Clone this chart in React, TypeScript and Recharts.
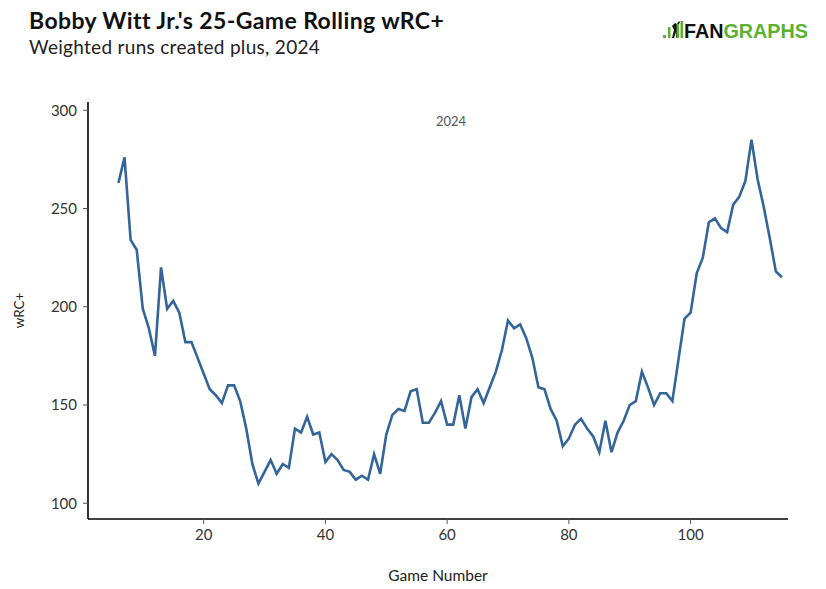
import React from 'react';
import { LineChart, Line, XAxis, YAxis } from 'recharts';

const games: number[] = [
  6, 7, 8, 9, 10, 11, 12, 13, 14, 15, 16, 17, 18, 19, 20, 21, 22, 23, 24, 25,
  26, 27, 28, 29, 30, 31, 32, 33, 34, 35, 36, 37, 38, 39, 40, 41, 42, 43, 44, 45,
  46, 47, 48, 49, 50, 51, 52, 53, 54, 55, 56, 57, 58, 59, 60, 61, 62, 63, 64, 65,
  66, 67, 68, 69, 70, 71, 72, 73, 74, 75, 76, 77, 78, 79, 80, 81, 82, 83, 84, 85,
  86, 87, 88, 89, 90, 91, 92, 93, 94, 95, 96, 97, 98, 99, 100, 101, 102, 103, 104, 105,
  106, 107, 108, 109, 110, 111, 112, 113, 114, 115,
];

const wrcPlus: number[] = [
  263, 276, 234, 229, 199, 189, 175, 220, 199, 203, 197, 182, 182, 174, 166, 158, 155, 151, 160, 160,
  152, 138, 120, 110, 116, 122, 115, 120, 118, 138, 136, 144, 135, 136, 121, 125, 122, 117, 116, 112,
  114, 112, 125, 115, 135, 145, 148, 147, 157, 158, 141, 141, 146, 152, 140, 140, 155, 138, 154, 158,
  151, 159, 167, 178, 193, 189, 191, 184, 174, 159, 158, 148, 142, 129, 133, 140, 143, 138, 134, 126,
  142, 126, 136, 142, 150, 152, 167, 159, 150, 156, 156, 152, 173, 194, 197, 217, 225, 243, 245, 240,
  238, 252, 256, 264, 285, 265, 251, 235, 218, 215,
];

const xTicks: number[] = [20, 40, 60, 80, 100];
const yTicks: number[] = [100, 150, 200, 250, 300];

const title = "Bobby Witt Jr.'s 25-Game Rolling wRC+";
const subtitle = 'Weighted runs created plus, 2024';
const panelLabel = '2024';

const data = games.map((g, i) => ({ game: g, wrc: wrcPlus[i] }));

const FONT = 'Lato, "Open Sans", sans-serif';
const LINE_COLOR = '#33659a';
const GREEN = '#5cb132';

export default function App() {
  return (
    <div style={{ position: 'absolute', left: 0, top: 0, width: 826, height: 589, background: '#fff', fontFamily: FONT }}>
      <div style={{ position: 'absolute', left: 29, top: 7, fontSize: 23, lineHeight: 1.2, fontWeight: 700, color: '#111', whiteSpace: 'nowrap', letterSpacing: 0.4 }}>
        {title}
      </div>
      <div style={{ position: 'absolute', left: 29, top: 36, fontSize: 19, lineHeight: 1.2, color: '#222', whiteSpace: 'nowrap', letterSpacing: 0.3 }}>
        {subtitle}
      </div>
      <svg style={{ position: 'absolute', left: 660, top: 18 }} width={160} height={26}>
        <rect x={3} y={17} width={3} height={3} fill={GREEN} />
        <rect x={8} y={9} width={2.5} height={11} fill={GREEN} />
        <path d="M12 20 L14 12 L12 8 L15 5 L17 6 L19 3 L20 4 L18 8 L19 12 L18 20 L16 20 L16 14 L14 20 Z" fill="#111" />
        <rect x={16.5} y={6} width={2.5} height={14} fill={GREEN} />
        <rect x={20.5} y={3} width={2.5} height={17} fill={GREEN} />
        <text x={24} y={20} fontFamily='"Liberation Sans", Arial, sans-serif' fontWeight={700} fontSize={21} textLength={124} lengthAdjust="spacingAndGlyphs">
          <tspan fill="#111">FAN</tspan>
          <tspan fill={GREEN}>GRAPHS</tspan>
        </text>
      </svg>
      <div style={{ position: 'absolute', left: 0, top: 113, width: 902, textAlign: 'center', fontSize: 13, color: '#555' }}>
        {panelLabel}
      </div>
      <LineChart
        width={826}
        height={589}
        data={data}
        margin={{ top: 102, right: 38, bottom: 0, left: 0 }}
      >
        <XAxis
          dataKey="game"
          type="number"
          domain={[1, 116]}
          ticks={xTicks}
          allowDataOverflow
          height={70}
          tickSize={5}
          tickMargin={5}
          axisLine={{ stroke: '#000', strokeWidth: 1.6 }}
          tickLine={{ stroke: '#555' }}
          tick={{ fill: '#333', fontSize: 15, fontFamily: FONT }}
          label={{ value: 'Game Number', position: 'insideBottom', offset: 8, fill: '#222', fontSize: 15.5, fontFamily: FONT }}
        />
        <YAxis
          type="number"
          domain={[92, 304.2]}
          ticks={yTicks}
          allowDataOverflow
          width={88}
          tickSize={5}
          tickMargin={6}
          axisLine={{ stroke: '#000', strokeWidth: 1.6 }}
          tickLine={{ stroke: '#555' }}
          tick={{ fill: '#333', fontSize: 15, fontFamily: FONT }}
          label={{ value: 'wRC+', angle: -90, position: 'insideLeft', offset: 19, fill: '#222', fontSize: 13.5, fontFamily: FONT, style: { textAnchor: 'middle' } }}
        />
        <Line
          dataKey="wrc"
          type="linear"
          stroke={LINE_COLOR}
          strokeWidth={2.6}
          dot={false}
          activeDot={false}
          isAnimationActive={false}
        />
      </LineChart>
    </div>
  );
}
